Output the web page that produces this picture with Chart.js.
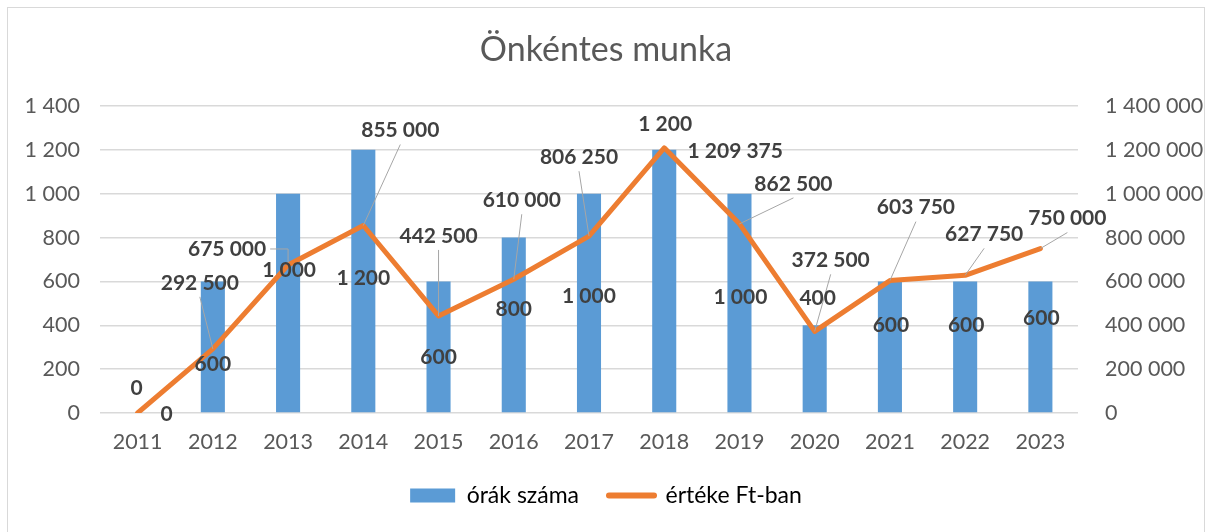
<!DOCTYPE html>
<html lang="hu">
<head>
<meta charset="UTF-8">
<title>Önkéntes munka</title>
<script src="https://cdn.jsdelivr.net/npm/chart.js"></script>
<style>
  html, body { margin: 0; padding: 0; background: #fff; overflow: hidden; }
  .keret {
    position: absolute; left: 7px; top: 7px;
    width: 1198px; height: 540px;
    border: 1px solid #d9d9d9; box-sizing: border-box;
  }
</style>
</head>
<body>
<div class="keret"><canvas id="grafikon"></canvas></div>

<script>
// adatok
var evek = ['2011', '2012', '2013', '2014', '2015', '2016', '2017', '2018', '2019', '2020', '2021', '2022', '2023'];
var orak = [0, 600, 1000, 1200, 600, 800, 1000, 1200, 1000, 400, 600, 600, 600];
var ertek = [0, 292500, 675000, 855000, 442500, 610000, 806250, 1209375, 862500, 372500, 603750, 627750, 750000];

// cimkek elhelyezese (pixel eltolas a ponthoz / oszlop tetejehez kepest)
var oraCimkeDx = [29, 0, 1, 0, 0, 0, 0, 1, 1, 3, 1, 1, 1];
var oraCimkeDy = [1, 83, 77, 128, 76, 72, 103, -26, 104, -27, 44, 44, 37];
var ertekCimkeDx = [-1, -13, -61, 37, 0, 8, -10, 71, 54, 16, 26, 19, 27];
var ertekCimkeDy = [-25, -66, -16, -95, -80, -79, -79, 3, -40, -71, -73, -41, -30];
var vezeto = [false, true, true, true, true, true, true, false, true, true, true, true, true];

function szokoz(n) {
  return String(n).replace(/\B(?=(\d{3})+(?!\d))/g, ' ');
}

Chart.defaults.font.family = 'Lato';
Chart.defaults.color = '#595959';

const cimkek = {
  id: 'cimkek',
  afterDatasetsDraw(chart) {
    const ctx = chart.ctx;
    const oszlopok = chart.getDatasetMeta(0).data;
    const pontok = chart.getDatasetMeta(1).data;
    ctx.save();
    ctx.font = 'bold 21px Lato';
    ctx.textAlign = 'center';
    ctx.textBaseline = 'middle';

    // vonal cimkek + vezeto vonalak
    for (let i = 0; i < pontok.length; i++) {
      const px = pontok[i].x, py = pontok[i].y;
      const cx = px + ertekCimkeDx[i], cy = py + ertekCimkeDy[i];
      const txt = szokoz(ertek[i]);
      const w = ctx.measureText(txt).width;
      if (vezeto[i]) {
        const l = cx - w / 2, r = cx + w / 2, b = cy + 10;
        ctx.beginPath();
        if (py > b + 12) {
          ctx.moveTo(cx, b + 4);
          ctx.lineTo(px, py);
        } else if (px > r) {
          ctx.moveTo(r + 4, cy);
          ctx.lineTo(px, cy);
          ctx.lineTo(px, py);
        } else {
          ctx.moveTo(l - 4, cy);
          ctx.lineTo(px, cy);
          ctx.lineTo(px, py);
        }
        ctx.strokeStyle = '#a6a6a6';
        ctx.lineWidth = 1;
        ctx.stroke();
      }
      ctx.fillStyle = '#404040';
      ctx.fillText(txt, cx, cy);
    }

    // oszlop cimkek
    for (let i = 0; i < oszlopok.length; i++) {
      const bx = oszlopok[i].x, by = oszlopok[i].y;
      ctx.fillStyle = '#404040';
      ctx.fillText(szokoz(orak[i]), bx + oraCimkeDx[i], by + oraCimkeDy[i]);
    }
    ctx.restore();
  }
};

const data = {
  labels: evek,
  datasets: [
    {
      type: 'bar',
      label: 'órák száma',
      data: orak,
      backgroundColor: '#5b9bd5',
      yAxisID: 'y',
      barPercentage: 0.32,
      categoryPercentage: 1,
      order: 1
    },
    {
      type: 'line',
      label: 'értéke Ft-ban',
      data: ertek,
      borderColor: '#ed7d31',
      backgroundColor: '#ed7d31',
      borderWidth: 5,
      pointRadius: 0,
      tension: 0,
      borderJoinStyle: 'round',
      borderCapStyle: 'round',
      yAxisID: 'y1',
      order: 0
    }
  ]
};

const config = {
  data: data,
  options: {
    responsive: true,
    maintainAspectRatio: false,
    animation: false,
    layout: { padding: { top: 0, left: 0, right: 0, bottom: 29 } },
    plugins: {
      title: {
        display: true,
        text: 'Önkéntes munka',
        color: '#595959',
        font: { size: 34, weight: 'normal' },
        padding: { top: 21.6, bottom: 35.6 }
      },
      legend: {
        position: 'bottom',
        labels: {
          usePointStyle: true,
          pointStyleWidth: 45,
          boxHeight: 14,
          padding: 30,
          color: '#595959',
          font: { size: 23 },
          generateLabels: function (chart) {
            return [
              { text: 'órák száma', fillStyle: '#5b9bd5', strokeStyle: '#5b9bd5', lineWidth: 0, pointStyle: 'rect', datasetIndex: 0 },
              { text: 'értéke Ft-ban', fillStyle: '#ed7d31', strokeStyle: '#ed7d31', lineWidth: 6, lineCap: 'round', pointStyle: 'line', datasetIndex: 1 }
            ];
          }
        }
      },
      tooltip: { enabled: false }
    },
    scales: {
      x: {
        grid: { display: false, drawTicks: false },
        border: { display: false },
        ticks: { padding: 16, font: { size: 21.5 }, color: '#595959' },
        afterFit: function (s) { s.height = 41; }
      },
      y: {
        position: 'left',
        min: 0,
        max: 1400,
        ticks: { stepSize: 200, padding: 20, font: { size: 21.5 }, color: '#595959', callback: function (v) { return szokoz(v); } },
        grid: { color: '#d9d9d9', lineWidth: 1.5, drawTicks: false },
        border: { display: false },
        afterFit: function (s) { s.width = 92; }
      },
      y1: {
        position: 'right',
        min: 0,
        max: 1400000,
        ticks: { stepSize: 200000, padding: 27, font: { size: 21.5 }, color: '#595959', callback: function (v) { return szokoz(v); } },
        grid: { display: false, drawTicks: false },
        border: { display: false },
        afterFit: function (s) { s.width = 126; }
      }
    }
  },
  plugins: [cimkek]
};

const grafikon = new Chart(document.getElementById('grafikon'), config);
</script>
</body>
</html>
